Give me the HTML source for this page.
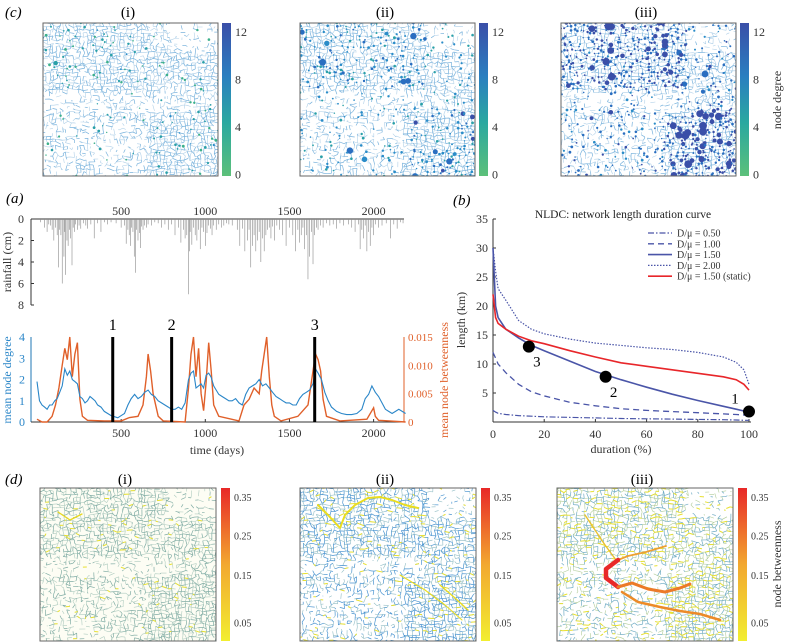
<!DOCTYPE html>
<html><head><meta charset="utf-8">
<style>
html,body{margin:0;padding:0;background:#fff;overflow:hidden;}
svg{display:block;font-family:"Liberation Serif",serif;}
</style></head>
<body>
<svg id="fig" width="789" height="644" viewBox="0 0 789 644" xmlns="http://www.w3.org/2000/svg">
<defs id="defs">
<linearGradient id="gDeg" x1="0" y1="1" x2="0" y2="0">
<stop offset="0" stop-color="#5cc07a"/><stop offset="0.35" stop-color="#2aa8a0"/><stop offset="0.65" stop-color="#2a7fc0"/><stop offset="1" stop-color="#3a4fa8"/></linearGradient>
<linearGradient id="gBet" x1="0" y1="1" x2="0" y2="0">
<stop offset="0" stop-color="#f2ee30"/><stop offset="0.5" stop-color="#f2a830"/><stop offset="1" stop-color="#e82828"/></linearGradient>
</defs>
<g id="maps"></g>
<g id="panelA"></g>
<g id="panelB"></g>
</svg>
<script>
// ---------- data: panel (a) ----------
const rainDays=[20,45,60,70,80,90,100,110,120,128,135,142,150,160,165,170,178,185,193,200,208,215,222,230,240,250,260,275,290,300,320,340,360,380,400,420,440,470,500,520,530,540,548,555,562,570,578,585,592,600,608,615,622,630,640,650,660,680,700,720,740,760,780,800,820,840,855,870,880,890,900,905,910,920,930,940,950,960,970,980,990,1000,1010,1020,1030,1040,1050,1065,1080,1095,1110,1125,1140,1160,1190,1205,1220,1235,1250,1260,1270,1280,1290,1300,1310,1320,1330,1340,1350,1360,1370,1380,1390,1400,1410,1425,1440,1460,1480,1500,1520,1535,1550,1560,1570,1580,1590,1600,1610,1620,1630,1640,1650,1660,1670,1685,1700,1720,1740,1760,1780,1800,1820,1850,1870,1890,1910,1920,1930,1940,1950,1960,1970,1980,1990,2000,2010,2030,2050,2075,2100,2120,2140,2160,2175];
const rainVals=[0.3,0.8,1.2,0.5,0.6,1.0,2.0,0.8,1.5,4.5,1.0,1.5,6.0,3.5,1.2,5.2,2.0,2.5,1.0,1.8,4.3,0.8,1.2,0.5,1.0,0.6,0.9,0.4,0.6,0.9,0.5,1.8,0.4,1.2,0.3,0.5,0.3,0.4,0.8,0.6,2.3,1.0,1.5,2.5,0.8,1.2,3.5,5.0,1.0,2.0,1.3,2.7,0.7,1.0,0.6,0.8,0.5,0.6,0.3,0.4,0.8,0.5,1.0,0.5,1.5,0.8,2.2,1.0,1.8,1.5,7.0,3.0,1.2,2.4,0.8,1.5,2.0,1.0,2.8,0.8,1.2,2.5,1.3,0.6,0.9,1.5,0.6,1.0,0.5,0.8,0.6,0.4,0.5,0.6,1.0,2.5,0.9,3.0,2.0,1.0,4.5,2.5,1.5,3.0,2.0,1.2,4.0,1.8,3.0,1.5,1.0,0.8,1.8,0.7,2.0,0.6,1.0,1.5,2.5,0.8,1.5,3.0,1.0,2.2,1.5,0.8,2.8,1.5,5.6,3.5,1.2,4.2,1.5,0.8,1.0,0.6,0.8,0.4,0.6,0.5,0.9,0.4,0.6,0.5,0.8,1.2,0.5,2.8,1.0,1.8,0.6,3.0,1.2,2.5,0.8,1.5,0.5,0.8,0.6,0.4,1.8,0.5,0.9,0.3,0.4];
const degDays=[0,15,30,45,60,75,90,105,120,135,150,165,180,195,210,225,240,255,270,285,300,315,330,345,360,380,400,420,440,460,480,500,520,540,560,580,600,620,640,660,680,700,720,740,760,780,800,820,840,860,880,900,915,930,945,960,975,990,1005,1020,1035,1050,1065,1080,1100,1120,1140,1160,1180,1200,1220,1240,1260,1280,1300,1320,1340,1360,1380,1400,1420,1440,1460,1480,1500,1520,1540,1560,1580,1600,1620,1640,1655,1670,1690,1710,1730,1750,1780,1810,1840,1870,1900,1930,1950,1970,1990,2010,2030,2050,2070,2090,2110,2130,2150,2170,2190];
const degVals=[1.9,1.0,0.8,0.7,0.6,0.8,0.8,1.0,1.1,1.4,1.7,2.5,2.2,2.4,2.0,1.9,1.8,1.2,1.1,0.9,1.0,1.2,1.1,1.0,0.8,0.7,0.5,0.4,0.3,0.25,0.2,0.3,0.4,0.8,1.1,1.3,1.1,1.2,1.4,1.5,1.3,1.2,1.0,0.9,0.8,0.7,0.6,0.6,0.7,0.6,0.9,2.0,2.3,2.4,1.6,1.7,1.8,1.6,2.2,2.3,2.1,1.7,1.5,1.3,1.2,1.1,1.0,1.0,1.1,0.9,0.8,1.3,1.6,1.7,1.8,2.0,1.7,1.8,1.6,1.4,1.2,1.1,1.0,0.9,0.9,0.8,0.8,1.1,1.3,1.4,1.5,1.8,2.5,2.3,2.0,1.4,1.0,0.7,0.5,0.4,0.35,0.35,0.4,0.6,1.1,1.3,1.7,1.4,1.2,0.9,0.6,0.5,0.4,0.5,0.6,0.5,0.4];
const betDays=[0,30,60,90,110,130,150,165,180,195,210,225,240,255,270,300,400,500,550,600,630,650,660,675,690,720,750,880,900,915,930,945,960,975,990,1005,1020,1035,1050,1080,1200,1230,1260,1290,1320,1335,1350,1365,1380,1395,1410,1450,1550,1580,1610,1640,1655,1670,1685,1700,1720,1800,1960,1990,2000,2010,2030,2190];
const betVals=[0.0005,0,0,0.001,0.003,0.006,0.010,0.013,0.011,0.015,0.008,0.012,0.014,0.004,0.001,0.0003,0.0002,0.0002,0.0008,0.001,0.003,0.008,0.012,0.009,0.005,0.001,0.0002,0,0.006,0.012,0.015,0.008,0.013,0.005,0.002,0.007,0.014,0.009,0.003,0.001,0.0002,0.003,0.004,0.006,0.005,0.009,0.012,0.015,0.008,0.003,0.001,0.0002,0.001,0.002,0.003,0.009,0.012,0.011,0.009,0.004,0.001,0.0002,0.0005,0.002,0.0025,0.001,0.0003,0];
const eventDays=[450,800,1650];
const eventLabels=["1","2","3"];
const timeTicks=[500,1000,1500,2000];
// ---------- data: panel (b) ----------
const durations=[0,1,2,5,10,15,20,30,40,50,60,70,80,90,95,98,100];
const nl050=[2,1.7,1.5,1.3,1.1,1.0,0.9,0.8,0.7,0.6,0.55,0.5,0.45,0.4,0.35,0.3,0.3];
const nl100=[12,11,10,8.5,6.5,5.2,4.5,3.4,2.8,2.3,2.0,1.8,1.6,1.4,1.3,1.2,1.1];
const nl150=[30,20,18,16,14.5,13.2,12.3,10.5,8.7,7.3,6.0,4.8,3.7,2.7,2.2,1.9,1.8];
const nl200=[30,26,23,21,17.5,16,15.2,14.3,13.6,13.2,12.8,12.5,12.0,11.2,10.3,9.0,6.5];
const nlStatic=[22,18,17,16,14.8,14,13.5,12.3,11.2,10.2,9.6,9.0,8.4,7.8,7.3,6.5,5.5];
const markDur=[14,44,100];
const markLen=[13,7.8,1.8];
const markLabels=["3","2","1"];
const lenTicks=[5,10,15,20,25,30,35];
const durTicks=[0,20,40,60,80,100];

const NS="http://www.w3.org/2000/svg";
function mk(parent,tag,attrs,text){const e=document.createElementNS(NS,tag);for(const k in attrs)e.setAttribute(k,attrs[k]);if(text!==undefined)e.textContent=text;parent.appendChild(e);return e;}

// ---------- panel (a) ----------
const A=document.getElementById('panelA');
const ax=d=>37+(d)*0.1683;
const ryR=v=>219+v*(86/8);
const yDeg=v=>422-v*(85/4);
const yBet=v=>422-v*(85/0.015);
let t;
t=mk(A,'text',{x:6,y:203,'font-size':15,'font-style':'italic'},'(a)');
let g=mk(A,'g',{});
mk(g,'line',{x1:31,y1:219,x2:31,y2:305,stroke:'#333','stroke-width':1});
mk(g,'line',{x1:31,y1:219,x2:404,y2:219,stroke:'#333','stroke-width':1});
[0,2,4,6,8].forEach(v=>{mk(g,'text',{x:24,y:ryR(v)+4,'font-size':12,'text-anchor':'end',fill:'#333'},v);mk(g,'line',{x1:31,x2:34,y1:ryR(v),y2:ryR(v),stroke:'#333'});});
timeTicks.forEach(d=>{mk(g,'text',{x:ax(d),y:215,'font-size':12,'text-anchor':'middle',fill:'#333'},d);});
t=mk(A,'text',{transform:'translate(11,262) rotate(-90)','font-size':12,'text-anchor':'middle',fill:'#333'},'rainfall (cm)');
rainDays.forEach((d,i)=>{const v=rainVals[i]||0;const b=mk(A,'line',{x1:ax(d),x2:ax(d),y1:219,y2:ryR(v),stroke:'#8a8a8a','stroke-width':0.6});});
g=mk(A,'g',{});
mk(g,'line',{x1:31,y1:337,x2:31,y2:422,stroke:'#1f77b4'});
mk(g,'line',{x1:31,y1:422,x2:404,y2:422,stroke:'#333'});
mk(g,'line',{x1:404,y1:337,x2:404,y2:422,stroke:'#e0602a'});
[0,1,2,3,4].forEach(v=>mk(g,'text',{x:25,y:yDeg(v)+4,'font-size':12,'text-anchor':'end',fill:'#2a86c8'},v));
[[0,'0'],[0.005,'0.005'],[0.01,'0.010'],[0.015,'0.015']].forEach(p=>mk(g,'text',{x:408,y:yBet(p[0])+4,'font-size':11,fill:'#e0602a'},p[1]));
timeTicks.forEach(d=>{mk(g,'text',{x:ax(d),y:437,'font-size':12,'text-anchor':'middle',fill:'#333'},d);mk(g,'line',{x1:ax(d),x2:ax(d),y1:422,y2:419,stroke:'#333'});});
t=mk(A,'text',{x:217,y:454,'font-size':12,'text-anchor':'middle',fill:'#333'},'time (days)');
t=mk(A,'text',{transform:'translate(11,380) rotate(-90)','font-size':12,'text-anchor':'middle',fill:'#2a86c8'},'mean node degree');
t=mk(A,'text',{transform:'translate(448,380) rotate(-90)','font-size':12,'text-anchor':'middle',fill:'#e0602a'},'mean node betweenness');
let p=mk(A,'path',{d:betDays.map((d,i)=>(i?'L':'M')+ax(d).toFixed(1)+','+yBet(betVals[i]).toFixed(1)).join(''),fill:'none',stroke:'#e0602a','stroke-width':1.4});

p=mk(A,'path',{d:degDays.map((d,i)=>(i?'L':'M')+ax(d).toFixed(1)+','+yDeg(degVals[i]).toFixed(1)).join(''),fill:'none',stroke:'#2a86c8','stroke-width':1.1});

eventDays.forEach((d,i)=>{const l=mk(A,'line',{x1:ax(d),x2:ax(d),y1:337,y2:422,stroke:'#000','stroke-width':3});
 const tx=mk(A,'text',{x:ax(d),y:330,'font-size':16,'text-anchor':'middle'},eventLabels[i]);});

// ---------- panel (b) ----------
const B=document.getElementById('panelB');
const bx=v=>493+v*2.56;
const by=v=>422-v*(203/35);
t=mk(B,'text',{x:453,y:205,'font-size':15,'font-style':'italic'},'(b)');
t=mk(B,'text',{x:623,y:218,'font-size':11.5,'text-anchor':'middle',fill:'#222'},'NLDC: network length duration curve');
g=mk(B,'g',{});
mk(g,'line',{x1:493,y1:219,x2:493,y2:422,stroke:'#333'});mk(g,'line',{x1:493,y1:422,x2:751,y2:422,stroke:'#333'});
lenTicks.forEach(v=>{mk(g,'text',{x:488,y:by(v)+4,'font-size':12,'text-anchor':'end',fill:'#333'},v);mk(g,'line',{x1:493,x2:496,y1:by(v),y2:by(v),stroke:'#333'});});
durTicks.forEach(v=>{mk(g,'text',{x:bx(v),y:438,'font-size':12,'text-anchor':'middle',fill:'#333'},v);mk(g,'line',{x1:bx(v),x2:bx(v),y1:422,y2:419,stroke:'#333'});});
t=mk(B,'text',{x:621,y:453,'font-size':12,'text-anchor':'middle',fill:'#333'},'duration (%)');
t=mk(B,'text',{transform:'translate(465,320) rotate(-90)','font-size':12,'text-anchor':'middle',fill:'#333'},'length (km)');
const series=[[nl050,'#4a55a8','6,2,1.5,2',1.2,'D/μ = 0.50','nldc-050'],[nl100,'#4a55a8','6,4',1.3,'D/μ = 1.00','nldc-100'],[nl150,'#4a55a8','',1.6,'D/μ = 1.50','nldc-150'],[nl200,'#4a55a8','1.5,1.5',1.2,'D/μ = 2.00','nldc-200'],[nlStatic,'#e8262a','',1.6,'D/μ = 1.50 (static)','nldc-static']];
series.forEach((s,k)=>{
 const pa=mk(B,'path',{d:durations.map((d,i)=>(i?'L':'M')+bx(d).toFixed(1)+','+by(s[0][i]).toFixed(1)).join(''),fill:'none',stroke:s[1],'stroke-width':s[3],'stroke-dasharray':s[2]||'none'});
 
 const le=mk(B,'g',{});
 const yy=233+k*10.8;
 mk(le,'line',{x1:648,x2:672,y1:yy,y2:yy,stroke:s[1],'stroke-width':s[3],'stroke-dasharray':s[2]||'none'});
 mk(le,'text',{x:677,y:yy+3.5,'font-size':10,fill:'#333'},s[4]);
});
markDur.forEach((d,i)=>{const c=mk(B,'circle',{cx:bx(d),cy:by(markLen[i]),r:6,fill:'#000'});
 const tx=mk(B,'text',{x:bx(d)+(i==2?-14:8),y:by(markLen[i])+(i==2?-8:20),'font-size':15,'text-anchor':'middle'},markLabels[i]);});

// ---------- network maps (texture, seeded) ----------
const M=document.getElementById('maps');
const DEFS=document.getElementById('defs');
function rng(seed){let s=seed>>>0;return()=>{s=(s*1664525+1013904223)>>>0;return s/4294967296;};}
const degCols=['#3cb08a','#2aa0a8','#2a8cc8','#2a6ec0','#3a4fa8'];
function lerp(a,b,t){return a+(b-a)*t;}
function density(x,y){
 let d=0.6;
 if(y<0.45)d=0.7;
 if(x>0.6&&y>0.55)d=0.78;
 if(y>0.45&&y<0.58&&x<0.72)d=0.3;
 if(y>0.62&&x<0.58)d=0.38;
 if(x>0.72&&y<0.18)d=0.2;
 return d;}
function hotness(x,y){
 let h=0.3;
 if(y<0.42&&x<0.7)h=0.9;
 if(x>0.62&&y>0.55)h=1;
 if(y>0.45&&y<0.58&&x<0.72)h=0.1;
 if(y>0.62&&x<0.58)h=0.2;
 if(x>0.72&&y<0.2)h=0.1;
 return h;}
let clipN=0;
function map(x0,y0,w,h,seed,kind,level){
 const cid='clip'+(clipN++);
 const cp=mk(DEFS,'clipPath',{id:cid});mk(cp,'rect',{x:x0,y:y0,width:w,height:h});
 const gm=mk(M,'g',{'clip-path':'url(#'+cid+')'});
 mk(gm,'rect',{x:x0,y:y0,width:w,height:h,fill:kind==='bet'&&level===0?'#fdfdf4':'#fff'});
 const R=rng(seed);const nx=52,ny=46;const pts=[];
 for(let j=0;j<=ny;j++){pts.push([]);for(let i=0;i<=nx;i++){pts[j].push([x0+Math.min(nx,Math.max(0,i+R()*0.9-0.45))*w/nx,y0+Math.min(ny,Math.max(0,j+R()*0.9-0.45))*h/ny]);}}
 let dl='',dl2='';
 for(let j=0;j<=ny;j++)for(let i=0;i<=nx;i++){
  const [px,py]=pts[j][i];const den=density(i/nx,j/ny);
  if(i<nx&&R()<den){const q=pts[j][i+1];const s=`M${px.toFixed(1)},${py.toFixed(1)}L${q[0].toFixed(1)},${q[1].toFixed(1)}`;if(R()<0.5)dl+=s;else dl2+=s;}
  if(j<ny&&R()<den){const q=pts[j+1][i];const s=`M${px.toFixed(1)},${py.toFixed(1)}L${q[0].toFixed(1)},${q[1].toFixed(1)}`;if(R()<0.5)dl+=s;else dl2+=s;}
 }
 let c1,c2;
 if(kind==='deg'){c1='#78b2dc';c2='#b0d0e8';}
 else if(level===0){c1='#80aca4';c2='#b0ccc0';}
 else if(level===1){c1='#4a94d0';c2='#90bcc4';}
 else {c1='#70acc4';c2='#b0cc98';}
 mk(gm,'path',{d:dl2,stroke:c2,'stroke-width':0.6,fill:'none'});
 mk(gm,'path',{d:dl,stroke:c1,'stroke-width':0.7,fill:'none'});
 if(kind==='deg'){
  for(let j=0;j<=ny;j++)for(let i=0;i<=nx;i++){
   const u=i/nx,v=j/ny;const hot=hotness(u,v);
   const prob=[0.08,0.22,0.42][level]*(0.2+hot);
   if(R()<prob){const [px,py]=pts[j][i];
    let ci=Math.min(4,Math.max(0,Math.floor(R()*1.8+level*1.35+hot*0.6-0.3)));
    if(level===0)ci=Math.min(ci,2);
    const big=R()<[0.03,0.06,0.12][level]*hot;
    const rad=big?(1.6+R()*[1,1.8,2.4][level]):(0.7+R()*0.7);
    mk(gm,'circle',{cx:px.toFixed(1),cy:py.toFixed(1),r:rad.toFixed(1),fill:degCols[big?Math.min(4,ci+1):ci]});}
  }
 } else {
  let yl='';
  for(let j=0;j<=ny;j++)for(let i=0;i<nx;i++){if(R()<[0.04,0.07,0.18][level]*(0.4+hotness(i/nx,j/ny))){const [px,py]=pts[j][i];const q=pts[j][i+1];yl+=`M${px.toFixed(1)},${py.toFixed(1)}L${q[0].toFixed(1)},${q[1].toFixed(1)}`;}}
  mk(gm,'path',{d:yl,stroke:'#e8e030','stroke-width':1,fill:'none'});
 }
 const fr=mk(M,'rect',{x:x0,y:y0,width:w,height:h,fill:'none',stroke:'#666','stroke-width':1});
 
 return gm;
}
function cbar(x,y0,y1,grad,labels,name){
 const gc=mk(M,'g',{});
 mk(gc,'rect',{x:x,y:y0,width:9,height:y1-y0,fill:'url(#'+grad+')'});
 labels.forEach(l=>mk(gc,'text',{x:x+13,y:lerp(y1,y0,l[0])+4,'font-size':l[2]||12,fill:'#333'},l[1]));
}
t=mk(M,'text',{x:5,y:17,'font-size':15,'font-style':'italic'},'(c)');
t=mk(M,'text',{x:5,y:484,'font-size':15,'font-style':'italic'},'(d)');
const topX=[43,300,561],botX=[40,300,557],roman=['(i)','(ii)','(iii)'];
topX.forEach((x,k)=>{map(x,23,175,153,11+k*7,'deg',k);
 cbar(x+179,23,176,'gDeg',[[0.94,'12'],[0.63,'8'],[0.32,'4'],[0.01,'0']],'degree-colorbar-'+k);
 const tt=mk(M,'text',{x:x+85,y:17,'font-size':15,'text-anchor':'middle'},roman[k]);});
botX.forEach((x,k)=>{map(x,488,176,153,101+k*13,'bet',k);
 cbar(x+181,488,641,'gBet',[[0.94,'0.35',10],[0.69,'0.25',10],[0.43,'0.15',10],[0.12,'0.05',10]],'betweenness-colorbar-'+k);
 const tt=mk(M,'text',{x:x+85,y:484,'font-size':15,'text-anchor':'middle'},roman[k]);});
t=mk(M,'text',{transform:'translate(781,100) rotate(-90)','font-size':12,'text-anchor':'middle',fill:'#333'},'node degree');
t=mk(M,'text',{transform:'translate(781,564) rotate(-90)','font-size':12,'text-anchor':'middle',fill:'#333'},'node betweenness');
function pl(pts,col,w,name){const q=mk(M,'polyline',{points:pts,fill:'none',stroke:col,'stroke-width':w,'stroke-linejoin':'round','stroke-linecap':'round'});}
pl('318,505 328,515 340,528 345,515 355,505 368,498 380,497 392,500 405,505 418,508','#eadd20',2,'high-betweenness-path');
pl('440,585 455,598 468,610','#eadd20',1.4,'high-betweenness-path');
pl('400,575 425,590 445,605 462,620','#eadd20',1.1,'high-betweenness-path');
pl('58,512 70,520 82,514','#e8d820',1.3,'high-betweenness-path');
pl('585,515 595,530 605,545 616,560','#e8c030',1.4,'high-betweenness-path');
pl('618,560 628,556 646,552 666,546','#eda030',1.8,'high-betweenness-path');
pl('618,560 606,569 606,578 618,587','#e82828',4.5,'max-betweenness-path');
pl('618,587 632,583 648,589 665,592 680,588 690,584','#ec7a28',3,'high-betweenness-path');
pl('622,592 638,602 660,607 680,611 700,614 720,620','#ec8a28',2.5,'high-betweenness-path');
</script>
</body></html>
